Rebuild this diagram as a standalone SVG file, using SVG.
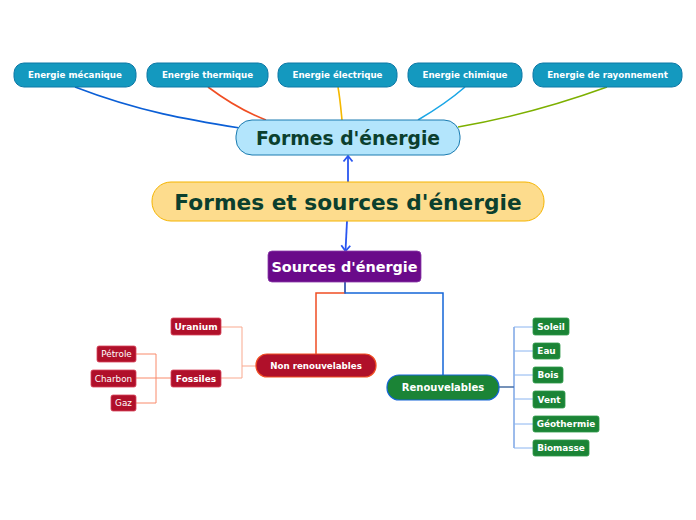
<svg xmlns="http://www.w3.org/2000/svg" width="696" height="520" viewBox="0 0 696 520">
<defs>
<marker id="arr" viewBox="0 0 12 12" refX="10.5" refY="6" markerWidth="12" markerHeight="12" orient="auto" markerUnits="userSpaceOnUse">
<path d="M5,1.5 L10.5,6 L5,10.5" fill="none" stroke="#2a56f0" stroke-width="1.8"/>
</marker>
</defs>
<style>
text{font-family:"DejaVu Sans",Verdana,sans-serif;font-weight:bold;text-anchor:middle;dominant-baseline:central}
.top rect{fill:#1499bf;stroke:#0d78a6;stroke-width:1}
.top text{fill:#fff;font-size:8.7px}
.red rect{fill:#b0102a;stroke:#d8455a;stroke-width:0.8}
.red text{fill:#fff;font-size:9px}
.redn text{font-weight:normal;font-size:8.8px}
.grn rect{fill:#1b8436;stroke:#2e9a4a;stroke-width:0.8}
.grn text{fill:#fff;font-size:8.9px}
.c{fill:none;stroke-width:1.6}
</style>
<rect width="696" height="520" fill="#fff"/>
<g id="connectors">
<path class="c" d="M75,87 C140,112 190,120 240,128" stroke="#0b5fd6"/>
<path class="c" d="M208,87 C228,102 245,112 266,120" stroke="#f04e23"/>
<path class="c" d="M338,87 C340,98 341,110 342,120" stroke="#f5b800"/>
<path class="c" d="M465,87 C450,100 435,110 418,120" stroke="#1aa6e6"/>
<path class="c" d="M607,87 C560,104 510,118 458,127" stroke="#7db000"/>
<path d="M348,182 L348,156" fill="none" stroke="#2a56f0" stroke-width="1.8" marker-end="url(#arr)"/>
<path d="M347,221 L345.5,251" fill="none" stroke="#2a56f0" stroke-width="1.8" marker-end="url(#arr)"/>
<path d="M345,282 L345,293 L316,293 L316,354" fill="none" stroke="#f04e23" stroke-width="1.5"/>
<path d="M345,282 L345,293 L443,293 L443,375" fill="none" stroke="#1565d8" stroke-width="1.5"/>
<path d="M256,366 L242,366 M242,327 L242,378 M242,327 L221,327 M242,378 L221,378" fill="none" stroke="#f9a98f" stroke-width="1"/>
<path d="M171,378 L156,378 M156,354 L156,403 M156,354 L136,354 M156,378 L136,378 M156,403 L136,403" fill="none" stroke="#f98a6a" stroke-width="1"/>
<path d="M499,387 L514,387" fill="none" stroke="#1a4a8a" stroke-width="1.2"/>
<path d="M514,327 L514,448" fill="none" stroke="#3a78d8" stroke-width="1"/>
<path d="M514,327 L533,327 M514,351 L533,351 M514,375 L533,375 M514,399 L533,399 M514,424 L533,424 M514,448 L533,448" fill="none" stroke="#8ab4f0" stroke-width="1"/>
</g>
<g id="n-mecanique" class="top"><rect x="14" y="63" width="122" height="24" rx="10"/><text x="75" y="75">Energie mécanique</text></g>
<g id="n-thermique" class="top"><rect x="147" y="63" width="121" height="24" rx="10"/><text x="207.5" y="75">Energie thermique</text></g>
<g id="n-electrique" class="top"><rect x="278" y="63" width="119" height="24" rx="10"/><text x="337.5" y="75">Energie électrique</text></g>
<g id="n-chimique" class="top"><rect x="408" y="63" width="114" height="24" rx="10"/><text x="465" y="75">Energie chimique</text></g>
<g id="n-rayonnement" class="top"><rect x="533" y="63" width="149" height="24" rx="10"/><text x="607.5" y="75">Energie de rayonnement</text></g>
<g id="n-formes"><rect x="236" y="120" width="224" height="35" rx="16" fill="#b3e5fc" stroke="#1a7bb0" stroke-width="1"/><text x="348" y="138" font-size="18.8" fill="#0b3f2e">Formes d'énergie</text></g>
<g id="n-main"><rect x="152" y="182" width="392" height="39" rx="19" fill="#fddc8d" stroke="#f5b400" stroke-width="1"/><text x="348" y="202.5" font-size="21.7" fill="#0b3f2e">Formes et sources d'énergie</text></g>
<g id="n-sources"><rect x="268" y="251" width="153" height="31" rx="4" fill="#6a0a8a" stroke="#8a3aa8" stroke-width="0.8"/><text x="344.5" y="267" font-size="14.4" fill="#fff">Sources d'énergie</text></g>
<g id="n-nonrenouv"><rect x="256" y="354" width="120" height="23" rx="11" fill="#b0102a" stroke="#f04e23" stroke-width="1.2"/><text x="316" y="365.5" font-size="8.7" fill="#fff">Non renouvelables</text></g>
<g id="n-renouv"><rect x="387" y="375" width="112" height="25" rx="12" fill="#1b8436" stroke="#1565d8" stroke-width="1.2"/><text x="443" y="387.5" font-size="10" fill="#fff">Renouvelables</text></g>
<g id="n-uranium" class="red"><rect x="171" y="318" width="50" height="17" rx="2"/><text x="196" y="326.5">Uranium</text></g>
<g id="n-fossiles" class="red"><rect x="171" y="370" width="50" height="17" rx="2"/><text x="196" y="378.5">Fossiles</text></g>
<g id="n-petrole" class="red redn"><rect x="97" y="346" width="39" height="16" rx="2"/><text x="116.5" y="354">Pétrole</text></g>
<g id="n-charbon" class="red redn"><rect x="91" y="370" width="45" height="17" rx="2"/><text x="113.5" y="378.5">Charbon</text></g>
<g id="n-gaz" class="red redn"><rect x="111" y="395" width="25" height="16" rx="2"/><text x="123.5" y="403">Gaz</text></g>
<g id="n-soleil" class="grn"><rect x="533" y="318" width="36" height="17" rx="2"/><text x="551" y="326.5">Soleil</text></g>
<g id="n-eau" class="grn"><rect x="533" y="343" width="27" height="16" rx="2"/><text x="546.5" y="351">Eau</text></g>
<g id="n-bois" class="grn"><rect x="533" y="367" width="30" height="16" rx="2"/><text x="548" y="375">Bois</text></g>
<g id="n-vent" class="grn"><rect x="533" y="391" width="32" height="17" rx="2"/><text x="549" y="399.5">Vent</text></g>
<g id="n-geothermie" class="grn"><rect x="533" y="416" width="66" height="16" rx="2"/><text x="566" y="424">Géothermie</text></g>
<g id="n-biomasse" class="grn"><rect x="533" y="440" width="56" height="16" rx="2"/><text x="561" y="448">Biomasse</text></g>
</svg>
